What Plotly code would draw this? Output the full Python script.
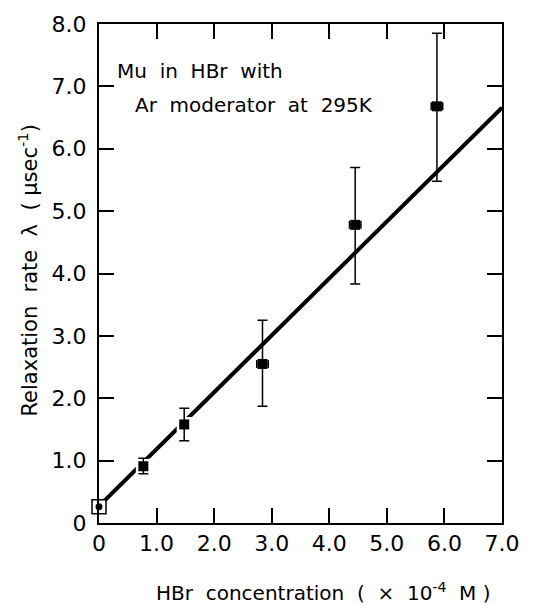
import plotly.graph_objects as go

# Data
conc = [0.0, 0.77, 1.48, 2.84, 4.45, 5.87]
rate = [0.26, 0.91, 1.58, 2.55, 4.78, 6.68]
err_up = [0.0, 0.13, 0.26, 0.70, 0.92, 1.17]
err_down = [0.0, 0.12, 0.26, 0.68, 0.95, 1.20]
xerr = [0.0, 0.0, 0.0, 0.1, 0.1, 0.1]
fit_x = [0.0, 7.0]
fit_y = [0.27, 6.66]
x_ticks = [0, 1, 2, 3, 4, 5, 6, 7]
x_ticklabels = ["0", "1.0", "2.0", "3.0", "4.0", "5.0", "6.0", "7.0"]
y_ticks = [0, 1, 2, 3, 4, 5, 6, 7, 8]
y_ticklabels = ["0", "1.0", "2.0", "3.0", "4.0", "5.0", "6.0", "7.0", "8.0"]

FONT = "DejaVu Sans"
fig = go.Figure()

# fitted line
fig.add_trace(go.Scatter(x=fit_x, y=fit_y, mode="lines",
                         line=dict(color="black", width=4), cliponaxis=False,
                         hoverinfo="skip"))
# white halos to break the line near markers
fig.add_trace(go.Scatter(x=conc[1:], y=rate[1:], mode="markers",
                         marker=dict(symbol="square", size=15, color="white"),
                         cliponaxis=False, hoverinfo="skip"))
# data points with error bars
fig.add_trace(go.Scatter(
    x=conc[1:], y=rate[1:], mode="markers",
    marker=dict(symbol="square", size=10, color="black"),
    error_y=dict(type="data", array=err_up[1:], arrayminus=err_down[1:],
                 color="black", thickness=1.5, width=5),
    error_x=dict(type="data", array=xerr[1:], color="black", thickness=1.5, width=4),
    cliponaxis=False))
# zero-concentration point
fig.add_trace(go.Scatter(x=conc[:1], y=rate[:1], mode="markers",
                         marker=dict(symbol="square", size=14, color="white",
                                     line=dict(color="black", width=1.5)),
                         cliponaxis=False))
fig.add_trace(go.Scatter(x=conc[:1], y=rate[:1], mode="markers",
                         marker=dict(symbol="circle", size=7, color="black"),
                         cliponaxis=False))

axis_common = dict(showgrid=False, zeroline=False, showline=True, linecolor="black",
                   linewidth=2, mirror="allticks", ticks="inside", ticklen=15,
                   tickwidth=1.5, tickcolor="black",
                   tickfont=dict(family=FONT, size=22, color="black"))

fig.update_xaxes(range=[0, 7], tickvals=x_ticks, ticktext=x_ticklabels, **axis_common)
fig.update_yaxes(range=[0, 8], tickvals=y_ticks, ticktext=y_ticklabels,
                 ticklabelstandoff=6, **axis_common)

PW = 502 - 99
PH = 523 - 15

fig.update_layout(
    width=536, height=606,
    margin=dict(l=99, r=34, t=15, b=83),
    paper_bgcolor="white", plot_bgcolor="white",
    showlegend=False,
    font=dict(family=FONT, color="black"),
    annotations=[
        dict(text="Mu  in  HBr  with", x=(115 - 99) / PW, y=(523 - 63) / PH,
             xref="paper", yref="paper",
             xanchor="left", yanchor="middle", showarrow=False,
             font=dict(family=FONT, size=20)),
        dict(text="Ar  moderator  at  295K", x=(133 - 99) / PW, y=(523 - 97) / PH,
             xref="paper", yref="paper",
             xanchor="left", yanchor="middle", showarrow=False,
             font=dict(family=FONT, size=20)),
        dict(text="HBr  concentration  (  ×  10<sup>-4</sup>  M )",
             x=(323 - 99) / PW, y=0, yshift=-69,
             xref="paper", yref="paper", xanchor="center", yanchor="middle",
             showarrow=False, font=dict(family=FONT, size=20)),
        dict(text="Relaxation  rate  λ  ( μsec<sup>-1</sup>)", x=0, y=(523 - 266) / PH,
             xref="paper", yref="paper", xshift=-71, xanchor="center", yanchor="middle",
             textangle=-90, showarrow=False,
             font=dict(family=FONT, size=21)),
    ],
)

fig.write_html("out.html")
